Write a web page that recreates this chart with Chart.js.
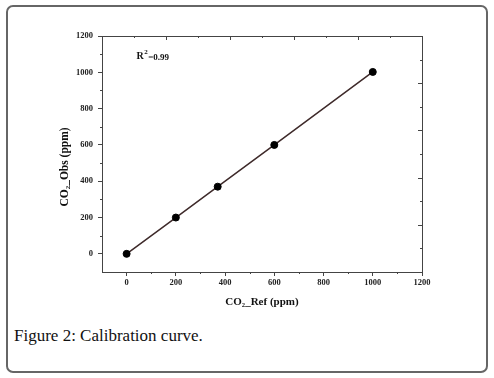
<!DOCTYPE html>
<html>
<head>
<meta charset="utf-8">
<script src="https://cdn.jsdelivr.net/npm/chart.js@4/dist/chart.umd.min.js"></script>
<style>
  html, body { margin: 0; padding: 0; background: #fff; }
  body { width: 494px; height: 378px; position: relative; overflow: hidden; }
  .frame {
    position: absolute; left: 6px; top: 5px; width: 478px; height: 364px;
    border: 2px solid #666; border-radius: 7px;
  }
  #wrap { position: absolute; left: 0; top: 0; width: 494px; height: 320px; }
  .caption {
    position: absolute; left: 14px; top: 326px; line-height: 20px;
    font-family: "Liberation Serif", "DejaVu Serif", serif; font-size: 17px; color: #111;
  }
</style>
</head>
<body>
<div class="frame"></div>
<div id="wrap"><canvas id="chart" width="494" height="320"></canvas></div>
<div class="caption">Figure 2: Calibration curve.</div>
<script>
// reference vs observed CO2 (ppm)
const refValues = [0, 200, 370, 600, 1000]
const obsValues = [0, 200, 370, 600, 1002]
const tickValues = [0, 200, 400, 600, 800, 1000, 1200]
const rSquared = '0.99'

const serif = '"Liberation Serif", "Times New Roman", serif'
const axisColor = '#444'
// trailing blanks push the rotated y title a bit lower, as in the original
const yPad = '\u00a0'.repeat(9)

// box round the plot; top and right edges carry their own 5-part ticks (inward),
// left and bottom get short minor ticks outside
const frameBox = {
  id: 'frameBox',
  afterDraw(chart) {
    const { ctx, chartArea: a, scales } = chart
    ctx.save()
    ctx.strokeStyle = axisColor
    ctx.lineWidth = 1
    ctx.strokeRect(a.left + 0.5, a.top + 0.5, a.right - a.left, a.bottom - a.top)
    ctx.beginPath()
    for (let v = 100; v <= 1100; v += 200) {
      const x = Math.round(scales.x.getPixelForValue(v)) + 0.5
      const y = Math.round(scales.y.getPixelForValue(v)) + 0.5
      ctx.moveTo(x, a.bottom); ctx.lineTo(x, a.bottom + 2)
      ctx.moveTo(a.left, y); ctx.lineTo(a.left - 2, y)
    }
    for (let i = 1; i < 10; i++) {
      const v = -100 + i * 130
      const major = i % 2 === 0
      const x = Math.round(scales.x.getPixelForValue(v)) + 0.5
      const y = Math.round(scales.y.getPixelForValue(v)) + 0.5
      ctx.moveTo(x, a.top); ctx.lineTo(x, a.top + (major ? 4 : 2))
      ctx.moveTo(a.right, y); ctx.lineTo(a.right - (major ? 4 : 2), y)
    }
    ctx.stroke()

    // R^2 note
    const tx = scales.x.getPixelForValue(40)
    const ty = scales.y.getPixelForValue(1085)
    ctx.fillStyle = '#111'
    ctx.textBaseline = 'middle'
    ctx.font = 'bold 10px ' + serif
    ctx.fillText('R', tx, ty)
    const w = ctx.measureText('R').width
    ctx.font = 'bold 7px ' + serif
    ctx.fillText('2', tx + w + 0.5, ty - 5)
    ctx.font = 'bold 9px ' + serif
    ctx.fillText('=' + rSquared, tx + w + 4.5, ty + 0.5)
    ctx.restore()
  }
}

new Chart(document.getElementById('chart'), {
  type: 'scatter',
  data: {
    datasets: [{
      data: refValues.map((x, i) => ({ x: x, y: obsValues[i] })),
      showLine: true,
      borderColor: '#3e2a2a',
      borderWidth: 1.5,
      pointRadius: 3.5,
      pointBackgroundColor: '#000',
      pointBorderColor: '#000',
      pointBorderWidth: 1
    }]
  },
  options: {
    responsive: false,
    animation: false,
    layout: { padding: { left: 54, top: 36, right: 72, bottom: 7 } },
    plugins: { legend: { display: false }, tooltip: { enabled: false } },
    scales: {
      x: {
        type: 'linear', min: -100, max: 1200,
        afterBuildTicks: (scale) => { scale.ticks = tickValues.map((v) => ({ value: v })) },
        afterFit: (scale) => { scale.height = 41 },
        grid: { drawOnChartArea: false, drawTicks: true, tickLength: 4, color: axisColor },
        border: { display: true, color: axisColor },
        ticks: { color: '#222', font: { family: serif, size: 8.5, weight: 'bold' }, padding: 2, maxRotation: 0, callback: (v) => String(v) },
        title: { display: true, text: 'CO\u2082_Ref (ppm)', color: '#111', font: { family: serif, size: 11, weight: 'bold' }, padding: { top: 2, bottom: 4 } }
      },
      y: {
        type: 'linear', min: -100, max: 1200,
        afterBuildTicks: (scale) => { scale.ticks = tickValues.map((v) => ({ value: v })) },
        afterFit: (scale) => { scale.width = 48 },
        grid: { drawOnChartArea: false, drawTicks: true, tickLength: 4, color: axisColor },
        border: { display: true, color: axisColor },
        ticks: { color: '#222', font: { family: serif, size: 8.5, weight: 'bold' }, padding: 5, callback: (v) => String(v) },
        title: { display: true, text: 'CO\u2082_Obs (ppm)' + yPad, color: '#111', font: { family: serif, size: 11.5, weight: 'bold' }, padding: { top: 4, bottom: 2 } }
      }
    }
  },
  plugins: [frameBox]
})
</script>
</body>
</html>
